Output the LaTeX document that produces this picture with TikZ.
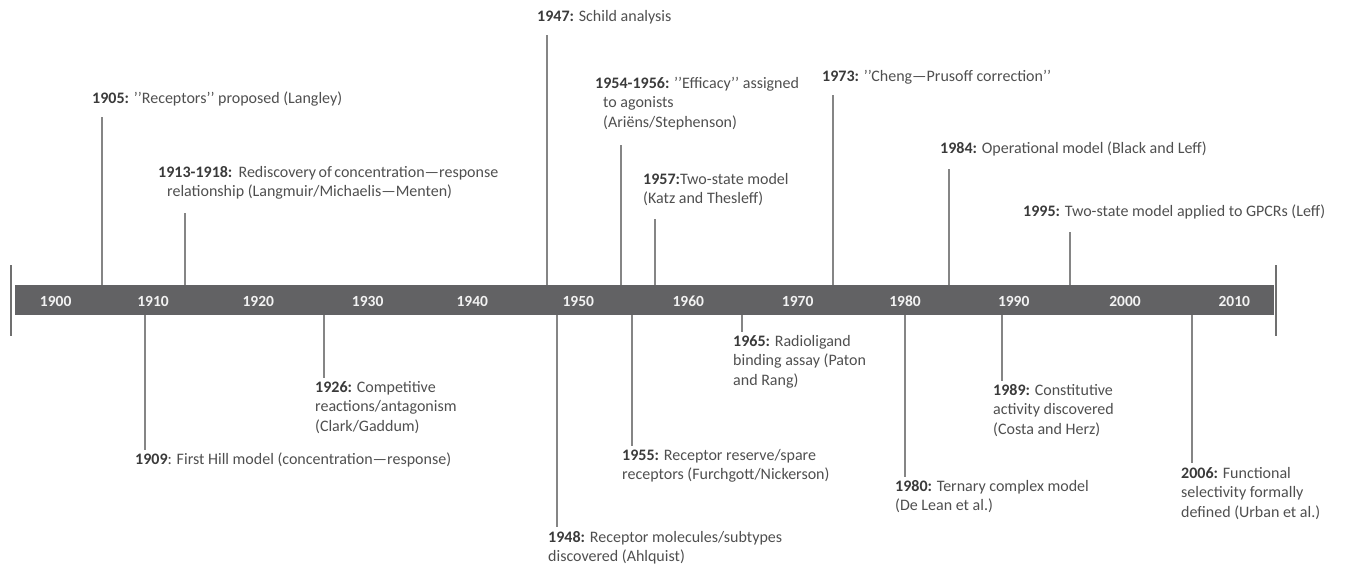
\documentclass[tikz,border=0pt]{standalone}
\usepackage{fontspec}
\setmainfont{Carlito}
\definecolor{txt}{HTML}{4F4F4F}
\definecolor{yrc}{HTML}{3A3A3A}
\definecolor{barc}{HTML}{626264}
\definecolor{lnc}{HTML}{858585}
\definecolor{endc}{HTML}{707070}
\newcommand\yr[1]{\textbf{\textcolor{yrc}{#1}}}
\begin{document}
\begin{tikzpicture}[x=1pt,y=-1pt,
  ev/.style={anchor=north west, inner sep=0pt, align=left, text=txt, font=\fontsize{16}{19.5}\selectfont},
  decade/.style={text=white!95!black, font=\fontsize{15.5}{16}\selectfont\bfseries, inner sep=0pt},
  tick/.style={draw=lnc, line width=1.4pt},
  endline/.style={draw=endc, line width=2pt}]
\useasboundingbox (0,0) rectangle (1346,566);
% bar
\node[fill=barc, minimum width=1259pt, minimum height=30pt, inner sep=0pt, anchor=north west] (bar) at (15,285) {};
\coordinate (lt) at (11,265); \coordinate (lb) at (11,336);
\coordinate (rt) at (1276,265); \coordinate (rb) at (1276,336);
\draw[endline] (lt) -- (lb);
\draw[endline] (rt) -- (rb);
% decades
\foreach \lab/\x in {1900/55.7,1910/153,1920/258.3,1930/367.7,1940/472.3,1950/578.3,1960/688.3,1970/797.7,1980/905,1990/1013.7,2000/1125,2010/1234.3}
  \node[decade] (d\lab) at (\x,301) {\lab};
% events above
\node[ev] (e1905) at (92,92) {\yr{1905:} ’’Receptors’’ proposed (Langley)};
\node[ev] (e1913) at (158,166) {\makebox[332pt][s]{\yr{1913-1918:}\hspace{2pt} Rediscovery of concentration—response}\\\hspace*{9pt}relationship (Langmuir/Michaelis—Menten)};
\node[ev] (e1947) at (537,10) {\yr{1947:} Schild analysis};
\node[ev] (e1954) at (595,77) {\yr{1954-1956:} ’’Efficacy’’ assigned\\\hspace*{8pt}to agonists\\\hspace*{8pt}(Ariëns/Stephenson)};
\node[ev] (e1957) at (643,173) {\yr{1957:}Two-state model\\(Katz and Thesleff)};
\node[ev] (e1973) at (822,70) {\yr{1973:} ’’Cheng—Prusoff correction’’};
\node[ev] (e1984) at (940,142) {\yr{1984:} Operational model (Black and Leff)};
\node[ev] (e1995) at (1023,205) {\yr{1995:} Two-state model applied to GPCRs (Leff)};
% events below
\node[ev] (e1909) at (135,453) {\yr{1909}: First Hill model (concentration—response)};
\node[ev] (e1926) at (315,381) {\yr{1926:} Competitive\\reactions/antagonism\\(Clark/Gaddum)};
\node[ev] (e1948) at (548,531) {\yr{1948:} Receptor molecules/subtypes\\discovered (Ahlquist)};
\node[ev] (e1955) at (622,449) {\yr{1955:} Receptor reserve/spare\\receptors (Furchgott/Nickerson)};
\node[ev] (e1965) at (733,335) {\yr{1965:} Radioligand\\binding assay (Paton\\and Rang)};
\node[ev] (e1980) at (895,480) {\yr{1980:} Ternary complex model\\(De Lean et al.)};
\node[ev] (e1989) at (993,384) {\yr{1989:} Constitutive\\activity discovered\\(Costa and Herz)};
\node[ev] (e2006) at (1181,467) {\yr{2006:} Functional\\selectivity formally\\defined (Urban et al.)};
% tick lines above
\draw[tick] (102,117) -- (102,0 |- bar.north);
\draw[tick] (185,213) -- (185,0 |- bar.north);
\draw[tick] (547,35) -- (547,0 |- bar.north);
\draw[tick] (621,145) -- (621,0 |- bar.north);
\draw[tick] (655,219) -- (655,0 |- bar.north);
\draw[tick] (833,95) -- (833,0 |- bar.north);
\draw[tick] (949,169) -- (949,0 |- bar.north);
\draw[tick] (1070,232) -- (1070,0 |- bar.north);
% tick lines below
\draw[tick] (145,0 |- bar.south) -- (145,450);
\draw[tick] (324,0 |- bar.south) -- (324,378);
\draw[tick] (557,0 |- bar.south) -- (557,527);
\draw[tick] (632,0 |- bar.south) -- (632,446);
\draw[tick] (742,0 |- bar.south) -- (742,332);
\draw[tick] (905,0 |- bar.south) -- (905,477);
\draw[tick] (1002,0 |- bar.south) -- (1002,381);
\draw[tick] (1192,0 |- bar.south) -- (1192,463);
\end{tikzpicture}
\end{document}
